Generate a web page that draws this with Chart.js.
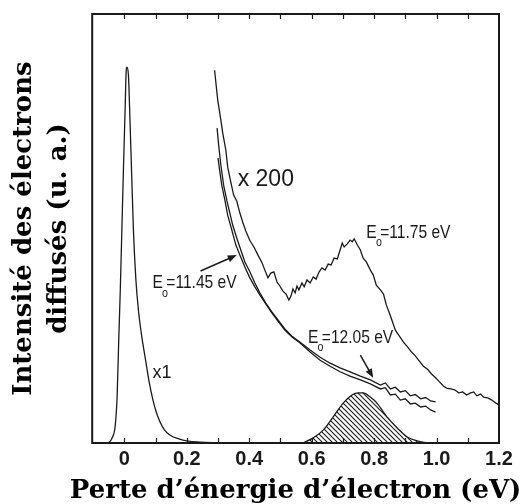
<!DOCTYPE html>
<html>
<head>
<meta charset="utf-8">
<script src="https://cdn.jsdelivr.net/npm/chart.js@4.4.1/dist/chart.umd.min.js"></script>
<style>
  html, body { margin: 0; padding: 0; background: #fff; }
  #wrap { width: 523px; height: 504px; }
</style>
</head>
<body>
<div id="wrap"><canvas id="loss" width="523" height="504"></canvas></div>
<script>
// Energy loss (eV) on x, scattered intensity (arb. units, 0..100) on y.

// x1 elastic peak
var peakX = [ -0.103, -0.055, -0.039, -0.029, -0.023, -0.018, -0.013, -0.008, -0.003, 0.002, 0.006, 0.008, 0.013, 0.018, 0.023, 0.029, 0.037, 0.045, 0.055, 0.068, 0.080, 0.100, 0.129, 0.177, 0.241, 0.370 ];
var peakY = [ 0, 0, 1.2, 4.2, 11.2, 24.0, 35.7, 49.7, 63.6, 76.5, 86.9, 87.6, 85.8, 75.3, 63.6, 49.7, 38.0, 31.0, 25.2, 19.3, 14.0, 7.7, 3.0, 0.9, 0.2, 0 ];

// x200, E0 = 11.75 eV
var e1175X = [ 0.289, 0.299, 0.309, 0.315, 0.325, 0.331, 0.341, 0.350, 0.360, 0.370, 0.379, 0.389, 0.402, 0.415, 0.428, 0.441, 0.450, 0.460, 0.469, 0.479, 0.489, 0.498, 0.508, 0.518, 0.527, 0.534, 0.540, 0.547, 0.553, 0.559, 0.569, 0.576, 0.585, 0.595, 0.605, 0.614, 0.624, 0.633, 0.643, 0.653, 0.662, 0.672, 0.682, 0.691, 0.698, 0.704, 0.714, 0.723, 0.730, 0.736, 0.746, 0.756, 0.765, 0.775, 0.788, 0.797, 0.807, 0.820, 0.830, 0.839, 0.849, 0.859, 0.868, 0.881, 0.894, 0.907, 0.920, 0.932, 0.945, 0.958, 0.971, 0.984, 0.997, 1.010, 1.022, 1.032, 1.045, 1.058, 1.071, 1.084, 1.096, 1.109, 1.119, 1.129, 1.141, 1.151, 1.164, 1.177, 1.190, 1.200 ];
var e1175Y = [ 86.9, 80.0, 75.3, 72.3, 68.3, 64.3, 60.8, 57.8, 56.4, 53.6, 51.5, 49.4, 47.2, 45.7, 43.8, 42.0, 40.3, 38.5, 39.6, 39.9, 37.5, 36.6, 35.4, 34.7, 33.3, 34.3, 35.9, 35.0, 36.6, 35.7, 37.3, 36.4, 38.0, 37.3, 38.7, 38.2, 39.9, 40.8, 40.3, 41.7, 41.5, 43.1, 42.9, 45.0, 46.6, 45.7, 46.4, 47.3, 46.9, 47.6, 46.2, 45.0, 43.1, 42.2, 40.3, 39.2, 36.8, 35.7, 34.7, 32.2, 30.3, 28.2, 26.3, 24.9, 23.5, 22.4, 21.2, 20.3, 19.1, 17.9, 17.2, 16.1, 15.2, 14.2, 13.3, 12.8, 12.6, 12.4, 11.7, 11.9, 11.2, 11.7, 11.9, 11.0, 11.4, 10.7, 10.5, 10.0, 9.3, 8.9 ];

// x200, E0 = 11.45 eV
var e1145X = [ 0.297, 0.302, 0.309, 0.318, 0.328, 0.338, 0.347, 0.360, 0.373, 0.386, 0.402, 0.418, 0.434, 0.453, 0.473, 0.492, 0.514, 0.537, 0.563, 0.595, 0.627, 0.659, 0.691, 0.723, 0.756, 0.788, 0.820, 0.836, 0.852, 0.868, 0.884, 0.900, 0.916, 0.932, 0.949, 0.965, 0.981, 0.997 ];
var e1145Y = [ 73.4, 69.5, 64.8, 60.1, 56.6, 53.6, 50.8, 47.8, 45.0, 42.2, 39.9, 37.3, 35.0, 32.6, 30.5, 28.7, 26.6, 24.9, 23.5, 21.7, 20.0, 18.6, 17.5, 16.6, 15.6, 14.7, 13.5, 14.0, 12.6, 13.0, 11.9, 12.2, 11.0, 11.3, 10.3, 10.6, 9.8, 9.6 ];

// x200, E0 = 12.05 eV
var e1205X = [ 0.300, 0.305, 0.312, 0.322, 0.331, 0.344, 0.357, 0.370, 0.386, 0.402, 0.418, 0.434, 0.453, 0.473, 0.492, 0.514, 0.537, 0.563, 0.595, 0.627, 0.659, 0.691, 0.723, 0.756, 0.788, 0.820, 0.836, 0.852, 0.868, 0.884, 0.900, 0.916, 0.932, 0.949, 0.965, 0.981, 0.997 ];
var e1205Y = [ 66.4, 63.6, 60.1, 56.6, 53.1, 49.7, 46.2, 43.8, 41.0, 38.5, 36.4, 34.5, 32.4, 30.3, 28.4, 26.3, 24.7, 23.3, 21.2, 19.3, 17.9, 16.6, 15.6, 14.7, 13.8, 12.6, 12.9, 11.2, 11.4, 10.0, 10.3, 9.1, 9.3, 8.4, 8.6, 7.7, 7.2 ];

// hatched band (difference peak)
var bandX = [ 0.572, 0.605, 0.637, 0.669, 0.701, 0.729, 0.749, 0.765, 0.788, 0.809, 0.841, 0.874, 0.906, 0.938, 0.970 ];
var bandY = [ 0, 1.2, 3.0, 6.1, 9.3, 11.2, 11.7, 11.7, 10.7, 9.3, 6.1, 3.5, 1.4, 0.5, 0 ];

var xMin = -0.103;
var xMax = 1.2;

var xTitle = 'Perte d\u2019énergie d\u2019électron (eV)';
var yTitle = [ 'Intensité des électrons', 'diffusés (u. a.)' ];

// Text notes placed in data units.
var notes = [
	{ text: 'x 200', x: 0.363, y: 61.3, size: 23 },
	{ text: 'x1', x: 0.090, y: 16.3, size: 18 },
];
var energyNotes = [
	{ text: '=11.75 eV', x: 0.775, y: 49.0 },
	{ text: '=11.45 eV', x: 0.090, y: 37.3 },
	{ text: '=12.05 eV', x: 0.588, y: 24.5 },
];
var arrows = [
	{ from: [ 0.244, 40.1 ], to: [ 0.360, 43.8 ] },
	{ from: [ 0.756, 20.5 ], to: [ 0.797, 15.2 ] },
];

function toPoints( xs, ys ) {
	var pts = [];
	for ( var i = 0; i < xs.length; i++ ) {
		pts.push( { x: xs[ i ], y: ys[ i ] } );
	}
	return pts;
}

// Diagonal hatch pattern for the shaded band.
function makeHatch() {
	var size = 5;
	var tile = document.createElement( 'canvas' );
	tile.width = size;
	tile.height = size;
	var c = tile.getContext( '2d' );
	c.fillStyle = '#fff';
	c.fillRect( 0, 0, size, size );
	c.strokeStyle = '#222';
	c.lineWidth = 1.2;
	c.beginPath();
	c.moveTo( -1, -1 );
	c.lineTo( size + 1, size + 1 );
	c.moveTo( -1, size - 1 );
	c.lineTo( 1, size + 1 );
	c.moveTo( size - 1, -1 );
	c.lineTo( size + 1, 1 );
	c.stroke();
	return c.createPattern( tile, 'repeat' );
}

var ink = '#1a1a1a';
var serifFamily = '"DejaVu Serif", "Liberation Serif", serif';

var framePlugin = {
	id: 'frameAndNotes',
	afterDatasetsDraw: function ( chart ) {
		var ctx = chart.ctx;
		var area = chart.chartArea;
		var xs = chart.scales.x;
		var ys = chart.scales.y;

		ctx.save();
		ctx.strokeStyle = ink;
		ctx.lineWidth = 2;
		ctx.strokeRect( area.left, area.top, area.right - area.left, area.bottom - area.top );

		// inward tick marks on top and bottom
		ctx.lineWidth = 1.2;
		ctx.beginPath();
		xs.ticks.forEach( function ( t ) {
			var v = t.value;
			if ( Math.abs( v * 10 - Math.round( v * 10 ) ) > 1e-6 ) {
				return;
			}
			if ( v <= xMin + 0.01 || v >= xMax - 0.01 ) {
				return;
			}
			var px = Math.round( xs.getPixelForValue( v ) ) + 0.5;
			ctx.moveTo( px, area.bottom );
			ctx.lineTo( px, area.bottom - 5 );
			ctx.moveTo( px, area.top );
			ctx.lineTo( px, area.top + 5 );
		} );
		ctx.stroke();

		ctx.fillStyle = ink;
		ctx.textBaseline = 'middle';
		ctx.textAlign = 'left';

		notes.forEach( function ( n ) {
			ctx.font = n.size + 'px "Liberation Sans", Arial, sans-serif';
			ctx.fillText( n.text, xs.getPixelForValue( n.x ), ys.getPixelForValue( n.y ) );
		} );

		energyNotes.forEach( function ( n ) {
			ctx.save();
			ctx.translate( xs.getPixelForValue( n.x ), ys.getPixelForValue( n.y ) );
			ctx.scale( 0.82, 1 );
			ctx.font = '19px "Liberation Sans", Arial, sans-serif';
			ctx.fillText( 'E', 0, 0 );
			var w = ctx.measureText( 'E' ).width;
			ctx.font = '13px "Liberation Sans", Arial, sans-serif';
			ctx.fillText( 'o', w - 1, 10 );
			var wo = ctx.measureText( 'o' ).width;
			ctx.font = '19px "Liberation Sans", Arial, sans-serif';
			ctx.fillText( n.text, w + wo - 3, 0 );
			ctx.restore();
		} );

		arrows.forEach( function ( a ) {
			var x0 = xs.getPixelForValue( a.from[ 0 ] );
			var y0 = ys.getPixelForValue( a.from[ 1 ] );
			var x1 = xs.getPixelForValue( a.to[ 0 ] );
			var y1 = ys.getPixelForValue( a.to[ 1 ] );
			var ang = Math.atan2( y1 - y0, x1 - x0 );
			ctx.lineWidth = 1.5;
			ctx.beginPath();
			ctx.moveTo( x0, y0 );
			ctx.lineTo( x1 - 6 * Math.cos( ang ), y1 - 6 * Math.sin( ang ) );
			ctx.stroke();
			ctx.beginPath();
			ctx.moveTo( x1, y1 );
			ctx.lineTo( x1 - 9 * Math.cos( ang ) + 3.5 * Math.sin( ang ), y1 - 9 * Math.sin( ang ) - 3.5 * Math.cos( ang ) );
			ctx.lineTo( x1 - 9 * Math.cos( ang ) - 3.5 * Math.sin( ang ), y1 - 9 * Math.sin( ang ) + 3.5 * Math.cos( ang ) );
			ctx.closePath();
			ctx.fill();
		} );

		// x-axis title: wider than the plot box, so drawn without the scale's maxWidth squeeze
		ctx.fillStyle = '#000';
		ctx.textAlign = 'center';
		ctx.font = 'bold 26px ' + serifFamily;
		ctx.fillText( xTitle, ( area.left + area.right ) / 2, chart.height - 13 );

		ctx.restore();
	},
};

function curve( xs, ys, extra ) {
	var ds = {
		data: toPoints( xs, ys ),
		borderColor: ink,
		borderWidth: 1.3,
		pointRadius: 0,
		fill: false,
		tension: 0,
	};
	for ( var k in extra ) {
		ds[ k ] = extra[ k ];
	}
	return ds;
}

new Chart( document.getElementById( 'loss' ), {
	type: 'line',
	data: {
		datasets: [
			curve( bandX, bandY, { fill: 'origin', backgroundColor: makeHatch(), cubicInterpolationMode: 'monotone' } ),
			curve( peakX, peakY, { cubicInterpolationMode: 'monotone' } ),
			curve( e1175X, e1175Y, {} ),
			curve( e1145X, e1145Y, {} ),
			curve( e1205X, e1205Y, {} ),
		],
	},
	plugins: [ framePlugin ],
	options: {
		responsive: false,
		animation: false,
		devicePixelRatio: 1,
		layout: { padding: { top: 14, right: 24, left: 0, bottom: 29 } },
		plugins: {
			legend: { display: false },
			tooltip: { enabled: false },
		},
		scales: {
			x: {
				type: 'linear',
				min: xMin,
				max: xMax,
				grid: { display: false, drawTicks: false },
				border: { display: false },
				ticks: {
					stepSize: 0.1,
					autoSkip: false,
					maxRotation: 0,
					padding: 6,
					color: ink,
					font: { family: '"Liberation Sans", Arial, sans-serif', size: 20, weight: 'bold', lineHeight: 1.0 },
					callback: function ( value ) {
						var n = Math.round( value * 10 );
						if ( Math.abs( value * 10 - n ) > 1e-6 || n < 0 || n % 2 ) {
							return '';
						}
						return n === 0 ? '0' : ( n / 10 ).toFixed( 1 );
					},
				},
				title: { display: false },
			},
			y: {
				min: 0,
				max: 100,
				grid: { display: false, drawTicks: false },
				border: { display: false },
				ticks: { display: false },
				title: {
					display: true,
					text: yTitle,
					color: '#000',
					font: { family: serifFamily, size: 26, weight: 'bold', lineHeight: 1.35 },
					padding: { top: 7, bottom: 15 },
				},
			},
		},
	},
} );
</script>
</body>
</html>
